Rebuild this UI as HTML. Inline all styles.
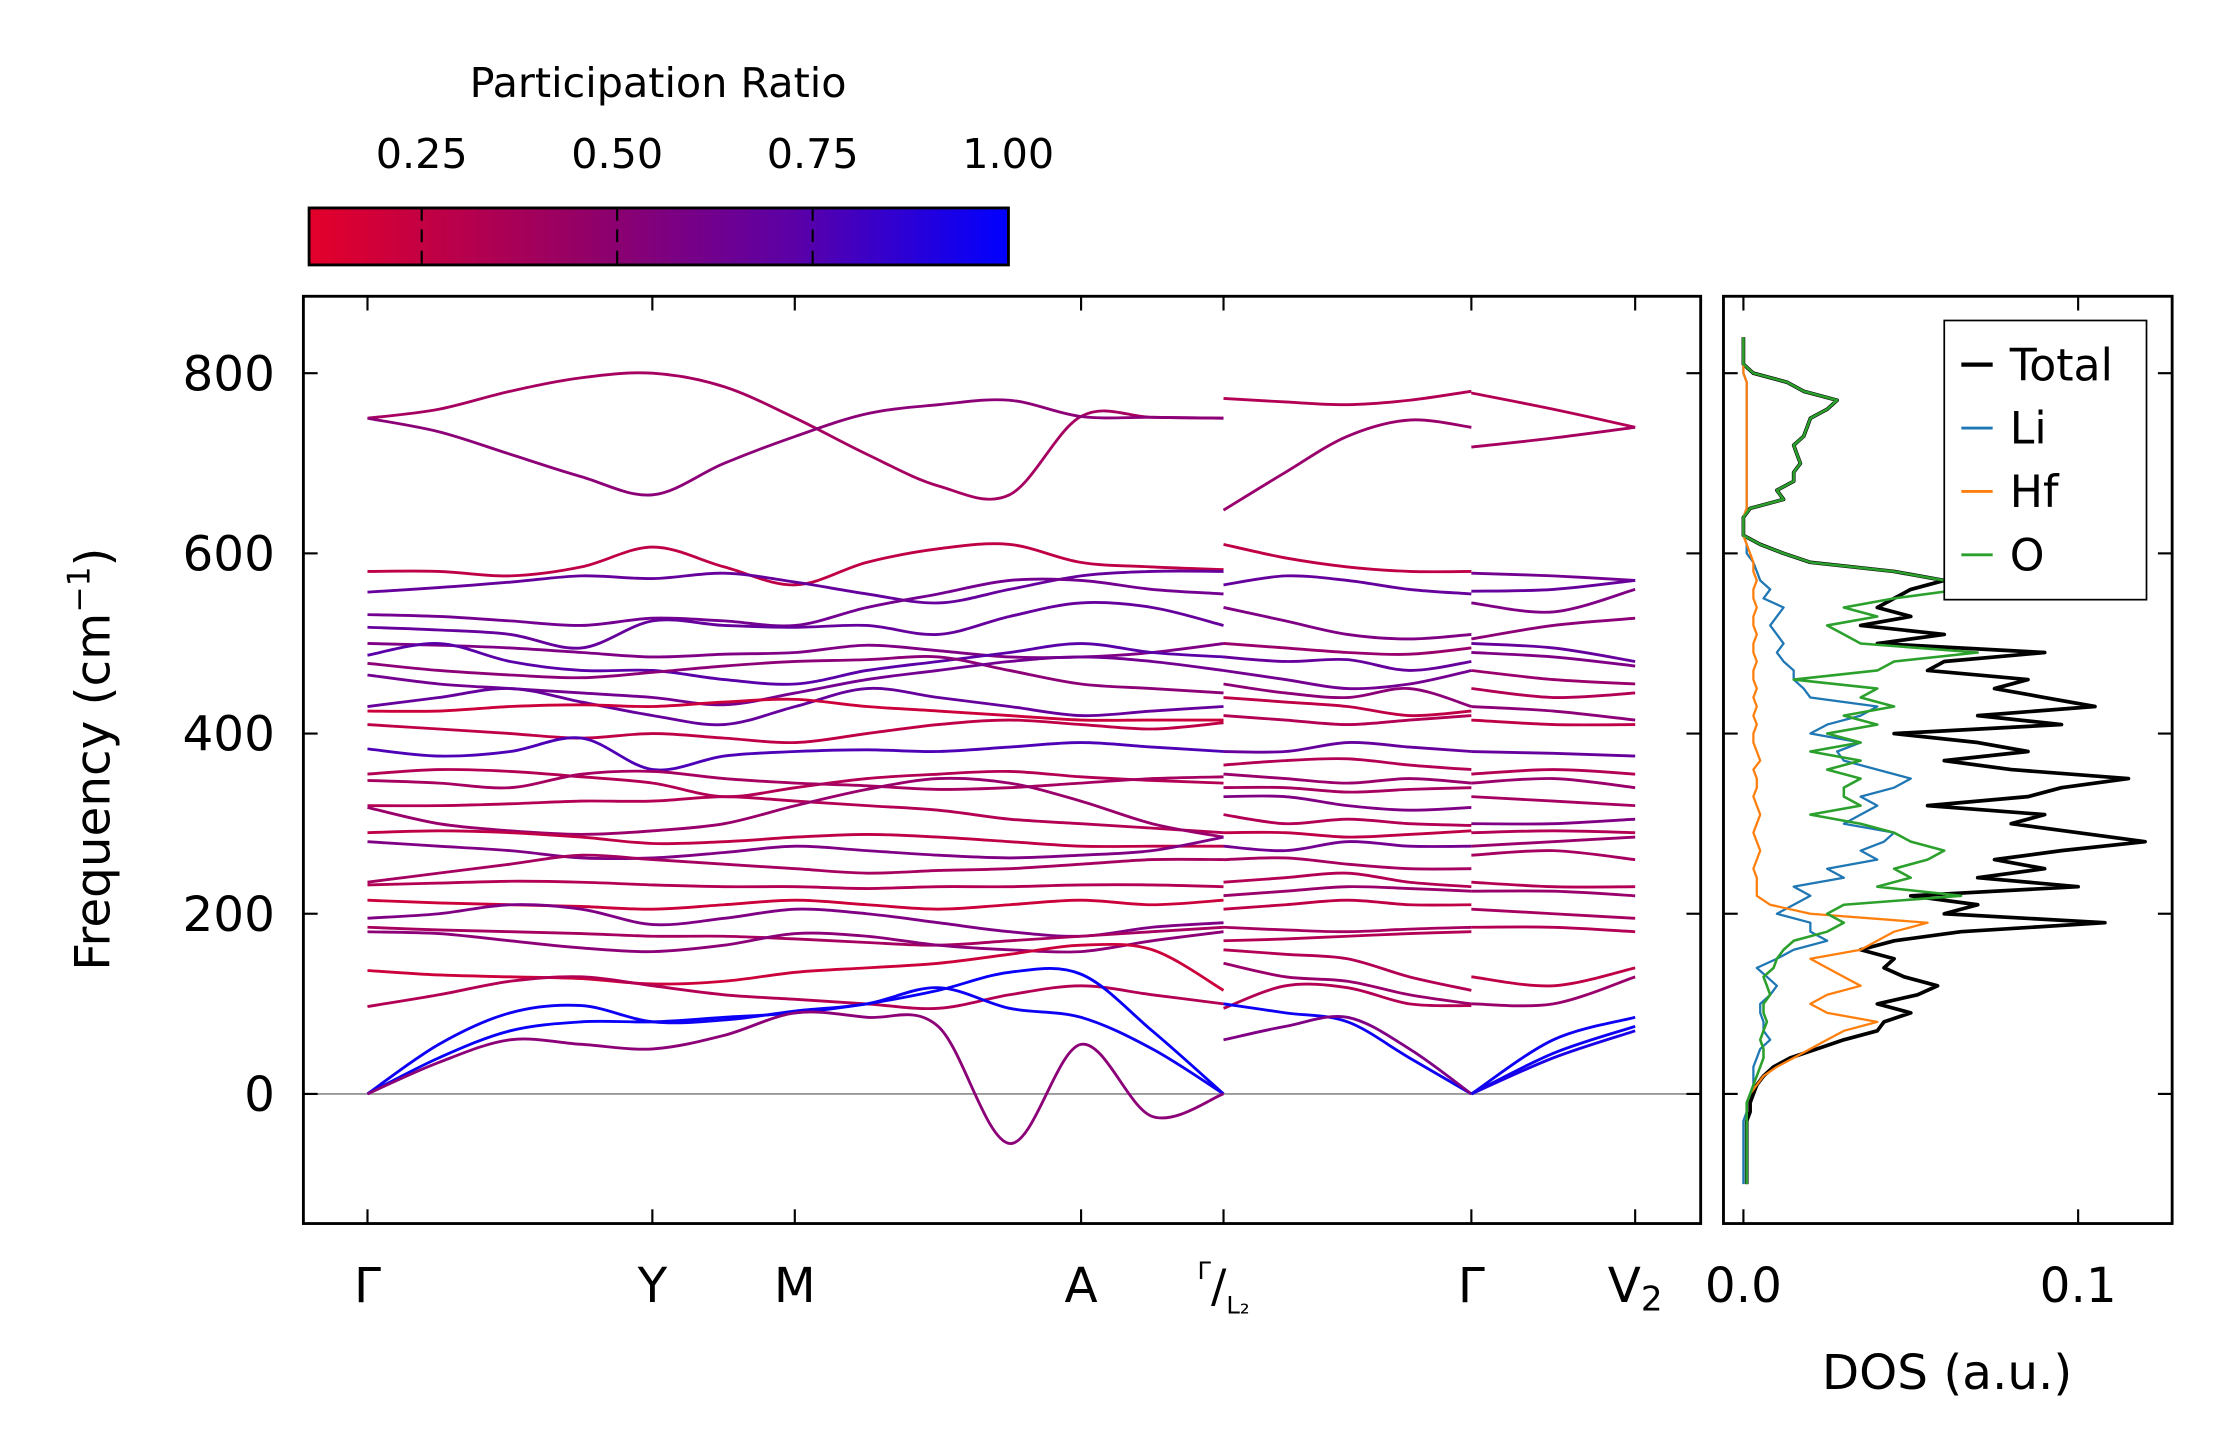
<!DOCTYPE html>
<html><head><meta charset="utf-8">
<style>
html,body{margin:0;padding:0;background:#fff;}
svg{display:block;font-family:"DejaVu Sans","Liberation Sans",sans-serif;}
</style></head>
<body>
<svg id="chart" width="2222" height="1455" viewBox="0 0 1560 1021.5" xmlns="http://www.w3.org/2000/svg">
<defs>
<linearGradient id="cbg" x1="0" x2="1" y1="0" y2="0">
<stop offset="0" stop-color="#e4002a"/><stop offset="0.4" stop-color="#920068"/><stop offset="0.7" stop-color="#5a00a8"/><stop offset="1" stop-color="#0000ff"/>
</linearGradient>
<clipPath id="mainclip"><rect x="213" y="208" width="981" height="651"/></clipPath>
<clipPath id="dosclip"><rect x="1210" y="208" width="315" height="651"/></clipPath>
</defs>
<g>
<text x="462" y="68" font-size="29" text-anchor="middle">Participation Ratio</text>
<rect x="217" y="146" width="491" height="40" fill="url(#cbg)" stroke="#000" stroke-width="2"/>
<g id="cbticks"></g>
</g>
<g id="main"></g>
<g id="dos"></g>
</svg>
<script>
// ---------- data ----------
const cbTicks=[0.25,0.5,0.75,1.0];
const cbLabels=["0.25","0.50","0.75","1.00"];
const kLabels=["Γ","Y","M","A","Γ/L2","Γ","V2"];
const kPos=[0,200,300,501,601,775,890];
const yTicks=[0,200,400,600,800];
// segment 1 (Γ→Y→M→A→Γ): 13 evenly spaced samples; seg2: 5; seg3: 3
const seg1=[
[750,760,780,795,800,785,750,710,675,665,752,751,750],
[750,735,710,685,665,700,730,755,765,770,752,751,750],
[580,580,575,585,607,585,565,590,605,610,590,585,582],
[557,562,568,575,572,578,568,555,545,560,575,580,580],
[532,530,525,520,528,525,520,540,555,570,570,560,555],
[518,515,510,495,525,520,518,520,510,530,545,540,520],
[500,498,495,490,485,488,490,498,492,485,485,490,500],
[487,500,480,470,470,460,455,470,480,490,500,490,485],
[478,470,465,462,468,475,480,482,485,470,455,450,445],
[465,455,450,445,440,432,445,460,470,480,485,480,470],
[430,440,450,435,420,410,430,450,440,430,420,425,430],
[425,425,430,432,430,435,438,430,425,420,415,415,415],
[410,405,400,395,400,395,390,400,410,415,410,405,412],
[383,375,380,395,360,375,380,382,380,385,390,385,380],
[355,360,358,352,345,330,340,350,355,358,352,348,345],
[348,345,340,355,358,350,345,342,338,340,345,350,352],
[320,320,322,325,325,330,325,320,315,305,300,295,290],
[318,300,292,288,292,300,320,338,350,345,325,300,285],
[290,292,290,285,278,280,285,288,285,280,275,275,275],
[280,275,270,262,262,268,275,270,265,262,265,270,285],
[235,245,255,265,260,255,250,245,248,250,255,260,260],
[232,234,236,235,232,230,230,228,230,230,232,232,230],
[215,212,210,208,205,210,215,210,205,210,215,210,215],
[195,200,210,205,188,195,205,200,190,180,175,185,190],
[185,182,180,178,175,175,172,168,165,170,175,180,185],
[180,178,170,162,158,165,178,175,165,160,158,170,180],
[137,132,130,128,122,125,135,140,145,155,165,160,115],
[97,110,125,130,120,110,105,100,95,110,120,110,100],
[0,40,70,80,80,85,90,100,115,135,133,70,0],
[0,55,90,98,80,82,92,100,118,95,85,50,0],
[0,35,60,55,50,65,90,85,75,-55,55,-25,0]];
const pr1=[0.35,0.45,0.25,0.6,0.55,0.6,0.5,0.65,0.45,0.55,0.6,0.2,0.25,0.7,0.3,0.35,0.3,0.4,0.25,0.5,0.35,0.3,0.2,0.5,0.35,0.45,0.2,0.3,0.97,0.95,0.45];
const seg2=[
[772,768,765,770,780],[648,690,730,748,740],[610,595,585,580,580],[565,575,570,560,555],
[540,525,510,505,510],[500,495,490,488,495],[485,480,482,470,480],[470,460,450,455,470],
[455,445,440,450,430],[440,435,430,420,425],[420,415,410,415,420],[380,380,390,385,380],
[365,370,372,365,360],[355,350,345,350,345],[340,340,335,338,340],[330,330,320,315,318],
[310,300,305,300,298],[290,290,285,288,292],[275,270,280,275,275],[260,262,255,250,250],
[235,240,245,235,230],[220,225,230,228,225],[205,210,215,210,210],[185,182,180,183,185],
[170,172,175,178,180],[160,155,150,130,115],[145,130,125,110,100],[95,120,118,100,98],
[100,90,80,40,0],[60,75,85,50,0]];
const pr2=[0.3,0.4,0.25,0.6,0.5,0.4,0.6,0.55,0.45,0.25,0.3,0.6,0.3,0.4,0.35,0.5,0.3,0.25,0.55,0.35,0.3,0.4,0.25,0.35,0.3,0.3,0.4,0.3,0.95,0.5];
const seg3=[
[778,760,740],[718,728,740],[578,575,570],[558,560,570],[545,535,560],[505,520,528],
[500,495,480],[490,485,475],[470,460,455],[450,440,445],[430,425,415],[415,410,410],
[380,378,375],[355,360,355],[345,350,340],[330,325,320],[300,300,305],[290,292,290],
[275,280,285],[265,270,260],[235,230,230],[225,225,220],[205,200,195],[185,185,180],
[130,120,140],[100,100,130],[0,60,85],[0,45,75],[0,40,70]];
const pr3=[0.3,0.35,0.55,0.6,0.5,0.45,0.6,0.5,0.4,0.3,0.45,0.25,0.6,0.3,0.4,0.35,0.5,0.3,0.4,0.35,0.3,0.4,0.35,0.3,0.25,0.4,0.95,0.95,0.9];
// DOS (freq grid -100..840 step 10)
const dosFreqStart=-100, dosFreqStep=10;
const dosTotal=[0.001,0.001,0.001,0.001,0.001,0.001,0.001,0.001,0.002,0.002,
0.003,0.004,0.006,0.009,0.014,0.022,0.03,0.04,0.042,0.05,0.04,0.052,0.058,0.048,0.042,0.045,0.035,0.045,0.065,0.108,
0.06,0.07,0.05,0.1,0.07,0.09,0.075,0.095,0.12,0.1,0.08,0.09,0.055,0.085,0.095,0.115,0.08,0.06,0.085,0.07,
0.045,0.095,0.07,0.105,0.09,0.075,0.085,0.055,0.06,0.09,0.04,0.06,0.035,0.05,0.04,0.045,0.05,0.06,0.045,0.02,
0.012,0.005,0,0,0,0.002,0.012,0.01,0.015,0.015,0.017,0.016,0.015,0.018,0.019,0.02,0.025,0.028,0.018,0.013,
0.003,0,0,0,0];
const dosLi=[0,0,0,0,0,0,0,0,0.001,0.001,
0.002,0.003,0.003,0.003,0.004,0.005,0.008,0.006,0.006,0.005,0.005,0.008,0.01,0.007,0.004,0.01,0.015,0.025,0.02,0.02,
0.01,0.015,0.02,0.015,0.03,0.025,0.04,0.035,0.042,0.045,0.03,0.035,0.04,0.035,0.045,0.05,0.04,0.03,0.028,0.035,
0.02,0.025,0.035,0.04,0.02,0.018,0.015,0.015,0.012,0.01,0.012,0.01,0.008,0.01,0.012,0.006,0.008,0.005,0.004,0.003,
0.001,0.001,0,0,0,0.001,0.001,0.001,0.001,0.001,0.001,0.001,0.001,0.001,0.001,0.001,0.001,0.001,0.001,0.001,
0,0,0,0,0];
const dosHf=[0.001,0.001,0.001,0.001,0.001,0.001,0.001,0.001,0.001,0.001,
0.002,0.004,0.006,0.01,0.015,0.02,0.025,0.03,0.04,0.025,0.02,0.025,0.035,0.03,0.025,0.02,0.035,0.04,0.045,0.055,
0.02,0.008,0.004,0.004,0.004,0.003,0.004,0.005,0.004,0.003,0.004,0.005,0.004,0.003,0.004,0.004,0.003,0.005,0.004,0.003,
0.003,0.004,0.003,0.004,0.003,0.004,0.003,0.003,0.004,0.003,0.003,0.004,0.003,0.003,0.004,0.003,0.003,0.004,0.003,0.003,
0.002,0.001,0,0,0,0.001,0.001,0.001,0.001,0.001,0.001,0.001,0.001,0.001,0.001,0.001,0.001,0.001,0.001,0.001,
0,0,0,0,0];
const dosO=[0.001,0.001,0.001,0.001,0.001,0.001,0.001,0.001,0.001,0.001,
0.002,0.003,0.004,0.005,0.006,0.006,0.005,0.006,0.007,0.006,0.006,0.008,0.007,0.006,0.009,0.01,0.012,0.015,0.025,0.03,
0.025,0.03,0.065,0.04,0.05,0.045,0.055,0.06,0.05,0.045,0.035,0.02,0.035,0.03,0.03,0.035,0.025,0.035,0.02,0.035,
0.025,0.04,0.03,0.045,0.035,0.04,0.015,0.04,0.045,0.07,0.035,0.03,0.025,0.04,0.03,0.045,0.065,0.06,0.045,0.02,
0.012,0.005,0,0,0,0.002,0.012,0.01,0.015,0.015,0.017,0.016,0.015,0.018,0.019,0.02,0.025,0.028,0.018,0.013,
0.003,0,0,0,0];

// ---------- helpers ----------
const NS="http://www.w3.org/2000/svg";
function mk(tag,attrs,parent){const e=document.createElementNS(NS,tag);for(const k in attrs)e.setAttribute(k,attrs[k]);parent.appendChild(e);return e;}
const yS=f=>768-f*0.6325;
const kX=k=>258+k;
const xD=d=>1224+d*2350;
const cbX=v=>217+(v-0.106)*549;
function prColor(p){const t=Math.max(0,Math.min(1,(p-0.106)/0.894));
 const r=Math.round(228*(1-t)),b=Math.round(36+219*t);return `rgb(${r},0,${b})`;}
function smooth(pts){let d=`M${pts[0][0]},${pts[0][1]}`;
 for(let i=0;i<pts.length-1;i++){const p0=pts[Math.max(0,i-1)],p1=pts[i],p2=pts[i+1],p3=pts[Math.min(pts.length-1,i+2)];
 const c1=[p1[0]+(p2[0]-p0[0])/6,p1[1]+(p2[1]-p0[1])/6],c2=[p2[0]-(p3[0]-p1[0])/6,p2[1]-(p3[1]-p1[1])/6];
 d+=`C${c1[0].toFixed(1)},${c1[1].toFixed(1)} ${c2[0].toFixed(1)},${c2[1].toFixed(1)} ${p2[0]},${p2[1].toFixed(1)}`;}
 return d;}

// ---------- colorbar ticks ----------
const cbt=document.getElementById('cbticks');
cbTicks.forEach((v,i)=>{
 const x=cbX(v);
 if(v<1){const l=mk('line',{x1:x,x2:x,y1:146,y2:186,stroke:'#000','stroke-width':1.5,'stroke-dasharray':'9,6'},cbt);
 
 }
 const t=mk('text',{x:x,y:118,'font-size':29,'text-anchor':'middle'},cbt);t.textContent=cbLabels[i];
 
 
});

// ---------- main plot ----------
const main=document.getElementById('main');
const bands=mk('g',{'clip-path':'url(#mainclip)'},main);


const zl=mk('line',{x1:213,x2:1194,y1:yS(0),y2:yS(0),stroke:'#999','stroke-width':1.3},bands);


function drawSeg(data,prs,k0,k1){
 data.forEach((row,bi)=>{const n=row.length;
  const pts=row.map((f,i)=>[kX(k0+(k1-k0)*i/(n-1)),yS(f)]);
  const p=mk('path',{d:smooth(pts),fill:'none',stroke:prColor(prs[bi]),'stroke-width':2},bands);
  
  });
}
drawSeg(seg1,pr1,kPos[0],kPos[4]);
drawSeg(seg2,pr2,kPos[4],kPos[5]);
drawSeg(seg3,pr3,kPos[5],kPos[6]);
const frame=mk('rect',{x:213,y:208,width:981,height:651,fill:'none',stroke:'#000','stroke-width':2},main);


kPos.forEach((k,i)=>{const x=kX(k);
 mk('line',{x1:x,x2:x,y1:859,y2:849,stroke:'#000','stroke-width':1.5},main);
 mk('line',{x1:x,x2:x,y1:208,y2:218,stroke:'#000','stroke-width':1.5},main);
 let t;
 if(kLabels[i]==='Γ/L2'){t=mk('text',{x:x,y:914,'font-size':32,'text-anchor':'middle'},main);
  t.innerHTML='<tspan font-size="17" dy="-16">Γ</tspan><tspan dy="16">/</tspan><tspan font-size="17" dy="8">L₂</tspan>';}
 else if(kLabels[i]==='V2'){t=mk('text',{x:x,y:914,'font-size':34,'text-anchor':'middle'},main);t.innerHTML='V<tspan font-size="24" dy="6">2</tspan>';}
 else{t=mk('text',{x:x,y:914,'font-size':34,'text-anchor':'middle'},main);t.textContent=kLabels[i];}
 
 
});
yTicks.forEach(v=>{const y=yS(v);
 mk('line',{x1:213,x2:223,y1:y,y2:y,stroke:'#000','stroke-width':1.5},main);
 mk('line',{x1:1184,x2:1194,y1:y,y2:y,stroke:'#000','stroke-width':1.5},main);
 const t=mk('text',{x:193,y:y+12,'font-size':34,'text-anchor':'end'},main);t.textContent=v;
 
 
});
const yt=mk('text',{x:0,y:0,'font-size':34,'text-anchor':'middle',transform:'translate(77,533) rotate(-90)'},main);
yt.innerHTML='Frequency (cm<tspan font-size="22" dy="-14">−1</tspan><tspan dy="14">)</tspan>';



// ---------- DOS ----------
const dos=document.getElementById('dos');
const dg=mk('g',{'clip-path':'url(#dosclip)'},dos);


function dosLine(arr,color,w,name){
 const d=arr.map((v,i)=>`${i?'L':'M'}${xD(v).toFixed(1)},${yS(dosFreqStart+i*dosFreqStep).toFixed(1)}`).join('');
 const p=mk('path',{d:d,fill:'none',stroke:color,'stroke-width':w,'stroke-linejoin':'round'},dg);
 
 
}
dosLine(dosTotal,'#000',2.6,'dos-total');
dosLine(dosLi,'#1f77b4',1.6,'dos-li');
dosLine(dosHf,'#ff7f0e',1.6,'dos-hf');
dosLine(dosO,'#2ca02c',1.8,'dos-o');
const df=mk('rect',{x:1210,y:208,width:315,height:651,fill:'none',stroke:'#000','stroke-width':2},dos);


yTicks.forEach(v=>{const y=yS(v);
 mk('line',{x1:1210,x2:1220,y1:y,y2:y,stroke:'#000','stroke-width':1.5},dos);
 mk('line',{x1:1515,x2:1525,y1:y,y2:y,stroke:'#000','stroke-width':1.5},dos);});
[[0,'0.0'],[0.1,'0.1']].forEach(([v,s])=>{const x=xD(v);
 mk('line',{x1:x,x2:x,y1:859,y2:849,stroke:'#000','stroke-width':1.5},dos);
 mk('line',{x1:x,x2:x,y1:208,y2:218,stroke:'#000','stroke-width':1.5},dos);
 const t=mk('text',{x:x,y:914,'font-size':34,'text-anchor':'middle'},dos);t.textContent=s;
 
 });
const dt=mk('text',{x:1367,y:975,'font-size':34,'text-anchor':'middle'},dos);dt.textContent='DOS (a.u.)';


const lg=mk('g',{},dos);


mk('rect',{x:1365,y:225,width:142,height:196,fill:'#fff',stroke:'#000','stroke-width':1.2},lg);
[['Total','#000',3],['Li','#1f77b4',2],['Hf','#ff7f0e',2],['O','#2ca02c',2]].forEach(([n,c,w],i)=>{
 const y=256+i*44.5;
 mk('line',{x1:1377,x2:1399,y1:y,y2:y,stroke:c,'stroke-width':w},lg);
 const t=mk('text',{x:1411,y:y+11,'font-size':31},lg);t.textContent=n;
 
 });
</script>
</body></html>
